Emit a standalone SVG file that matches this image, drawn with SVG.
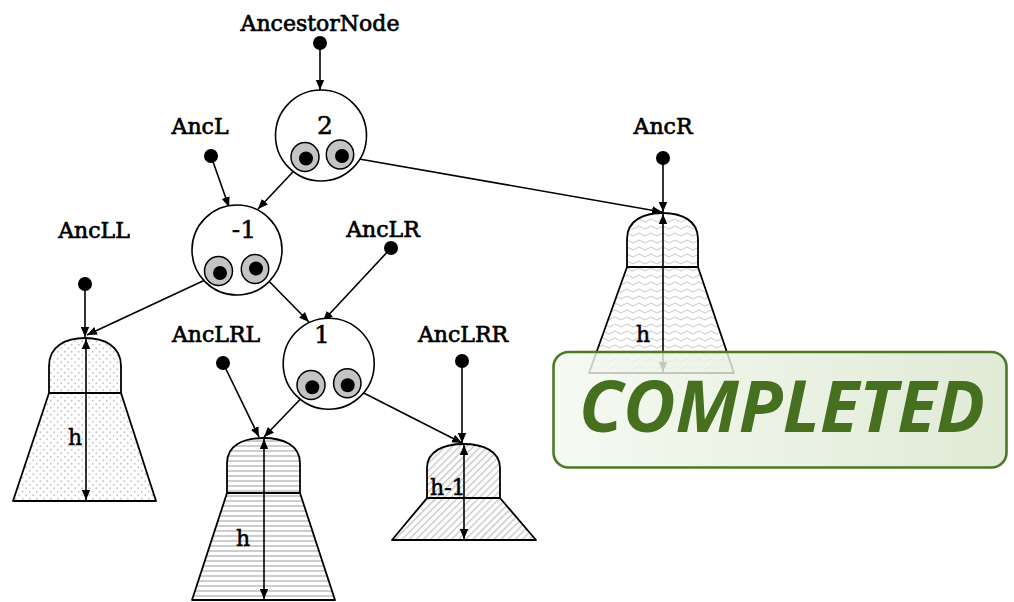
<svg xmlns="http://www.w3.org/2000/svg" width="1014" height="602" viewBox="0 0 1014 602">
<style>
.lbl{font-family:"DejaVu Serif","Liberation Serif",serif;font-size:22px;fill:#000;stroke:#000;stroke-width:0.7;text-anchor:middle}
.num{font-family:"DejaVu Serif","Liberation Serif",serif;font-size:25px;fill:#000;stroke:#000;stroke-width:0.5;text-anchor:middle}
.hl{font-family:"DejaVu Serif","Liberation Serif",serif;font-size:22px;fill:#000;stroke:#000;stroke-width:0.5}
.big{fill:#fff;stroke:#000;stroke-width:1.6}
.ptr{fill:#c4c4c4;stroke:#000;stroke-width:1.5}
.dot{fill:#000}
.edge{fill:none;stroke:#000;stroke-width:1.6;marker-end:url(#ah)}
.tr{stroke:#000;stroke-width:1.8;stroke-linejoin:round}
.ht{fill:none;stroke:#000;stroke-width:1.6;marker-start:url(#ah2);marker-end:url(#ah2)}
</style>
<defs>
<marker id="ah" viewBox="0 0 10 10" refX="10" refY="5" markerWidth="10" markerHeight="10" markerUnits="userSpaceOnUse" orient="auto"><path d="M0,0.8 L10,5 L0,9.2 z" fill="#000"/></marker>
<marker id="ah2" viewBox="0 0 10 10" refX="10" refY="5" markerWidth="10" markerHeight="10" markerUnits="userSpaceOnUse" orient="auto-start-reverse"><path d="M0,0.8 L10,5 L0,9.2 z" fill="#000"/></marker>
<pattern id="pDots" width="7" height="7" patternUnits="userSpaceOnUse"><rect width="7" height="7" fill="#fff"/><circle cx="1.75" cy="1.75" r="0.9" fill="#c4c4c4"/><circle cx="5.25" cy="5.25" r="0.9" fill="#c4c4c4"/></pattern>
<pattern id="pH" width="6" height="5" patternUnits="userSpaceOnUse"><rect width="6" height="5" fill="#fff"/><rect y="0" width="6" height="2" fill="#cdcdcd"/></pattern>
<pattern id="pD" width="5" height="5" patternUnits="userSpaceOnUse" patternTransform="rotate(45)"><rect width="5" height="5" fill="#fff"/><rect width="1.3" height="5" fill="#c4c4c4"/></pattern>
<pattern id="pW" width="12" height="7" patternUnits="userSpaceOnUse"><rect width="12" height="7" fill="#fff"/><path d="M0,3.5 Q3,0.5 6,3.5 T12,3.5" fill="none" stroke="#c8c8c8" stroke-width="1"/></pattern>
<linearGradient id="gS" x1="0" y1="0" x2="1" y2="0"><stop offset="0" stop-color="#f4f8ef"/><stop offset="1" stop-color="#d9e6cd"/></linearGradient>
</defs>

<g id="trees">
<g id="tree-LL">
<path class="tr" fill="url(#pDots)" d="M49,393 L13,501 L156,501 L121,393 Z"/>
<path class="tr" fill="url(#pDots)" d="M49,393 V366 C49,346 66,338 85,338 C104,338 121,346 121,366 V393 Z"/>
<line class="ht" x1="86" y1="339" x2="86" y2="500"/>
<text class="hl" x="68" y="445">h</text>
</g>
<g id="tree-LRL">
<path class="tr" fill="url(#pH)" d="M227,493 L192,600 L335,600 L300,493 Z"/>
<path class="tr" fill="url(#pH)" d="M227,493 V463 C227,445 244,438 263.5,438 C283,438 300,445 300,463 V493 Z"/>
<line class="ht" x1="264" y1="439" x2="264" y2="599"/>
<text class="hl" x="236" y="546">h</text>
</g>
<g id="tree-LRR">
<path class="tr" fill="url(#pD)" d="M427,498 L392,540 L536,540 L500,498 Z"/>
<path class="tr" fill="url(#pD)" d="M427,498 V468 C427,451 444,444 463.5,444 C483,444 500,451 500,468 V498 Z"/>
<line class="ht" x1="464" y1="445" x2="464" y2="539"/>
<text class="hl" x="430" y="495">h-1</text>
</g>
<g id="tree-R">
<path class="tr" fill="url(#pW)" d="M627,267 L589,373 L734,373 L698,267 Z"/>
<path class="tr" fill="url(#pW)" d="M627,267 V239 C627,220 644,213 662.5,213 C681,213 698,220 698,239 V267 Z"/>
<line class="ht" x1="663" y1="214" x2="663" y2="372"/>
<text class="hl" x="636" y="342">h</text>
</g>
</g>

<g id="connectors">
<line class="edge" x1="320" y1="43" x2="320" y2="90"/>
<line class="edge" x1="211" y1="156" x2="229" y2="207"/>
<line class="edge" x1="306" y1="158" x2="258" y2="209"/>
<line class="edge" x1="342" y1="156" x2="662" y2="212"/>
<line class="edge" x1="663" y1="158" x2="663" y2="212"/>
<line class="edge" x1="85" y1="284" x2="85" y2="337"/>
<line class="edge" x1="220" y1="273" x2="87" y2="335"/>
<line class="edge" x1="256" y1="268" x2="309" y2="322"/>
<line class="edge" x1="391" y1="248" x2="323" y2="321"/>
<line class="edge" x1="223" y1="363" x2="259" y2="437"/>
<line class="edge" x1="312" y1="387" x2="264" y2="437"/>
<line class="edge" x1="348" y1="385" x2="462" y2="443"/>
<line class="edge" x1="462" y1="361" x2="462" y2="443"/>
</g>

<g id="node-2">
<circle class="big" cx="321" cy="135.5" r="45.5"/>
<text class="num" x="325" y="134">2</text>
<ellipse class="ptr" cx="305" cy="157" rx="14" ry="14.5"/>
<ellipse class="ptr" cx="340" cy="154.5" rx="13.7" ry="14.5"/>
<circle class="dot" cx="306" cy="158.5" r="7"/>
<circle class="dot" cx="342" cy="156" r="7"/>
</g>
<g id="node-m1">
<circle class="big" cx="237" cy="250" r="45"/>
<text class="num" x="244" y="238">-1</text>
<ellipse class="ptr" cx="218.5" cy="271" rx="14" ry="14.5"/>
<ellipse class="ptr" cx="255" cy="269" rx="13.7" ry="14.5"/>
<circle class="dot" cx="220" cy="273" r="7"/>
<circle class="dot" cx="256" cy="268.5" r="7"/>
</g>
<g id="node-1">
<circle class="big" cx="328.7" cy="363.7" r="45.5"/>
<text class="num" x="322" y="343">1</text>
<ellipse class="ptr" cx="311" cy="385" rx="14" ry="14.5"/>
<ellipse class="ptr" cx="347.3" cy="383.3" rx="13.7" ry="14.5"/>
<circle class="dot" cx="312.3" cy="387.3" r="7"/>
<circle class="dot" cx="347.7" cy="385.3" r="7"/>
</g>

<g id="ptr-AncestorNode"><text class="lbl" x="320" y="31">AncestorNode</text><circle class="dot" cx="320" cy="43" r="7"/></g>
<g id="ptr-AncL"><text class="lbl" x="200" y="134">AncL</text><circle class="dot" cx="211" cy="156" r="7"/></g>
<g id="ptr-AncR"><text class="lbl" x="663" y="134">AncR</text><circle class="dot" cx="663" cy="158" r="7"/></g>
<g id="ptr-AncLL"><text class="lbl" x="94" y="238">AncLL</text><circle class="dot" cx="85" cy="284" r="7"/></g>
<g id="ptr-AncLR"><text class="lbl" x="383" y="237">AncLR</text><circle class="dot" cx="391" cy="248" r="7"/></g>
<g id="ptr-AncLRL"><text class="lbl" x="216" y="342">AncLRL</text><circle class="dot" cx="223" cy="363" r="7"/></g>
<g id="ptr-AncLRR"><text class="lbl" x="463" y="342">AncLRR</text><circle class="dot" cx="462" cy="361" r="7"/></g>

<g id="stamp">
<rect x="553.5" y="352" width="453" height="115.5" rx="15" ry="15" fill="url(#gS)" fill-opacity="0.82" stroke="#4b7a26" stroke-width="2.6"/>
<text x="782" y="432" text-anchor="middle" style="font-family:'Open Sans','Noto Sans',sans-serif;font-weight:bold;font-style:italic;font-size:72px;fill:#466f1f">COMPLETED</text>
</g>
</svg>
